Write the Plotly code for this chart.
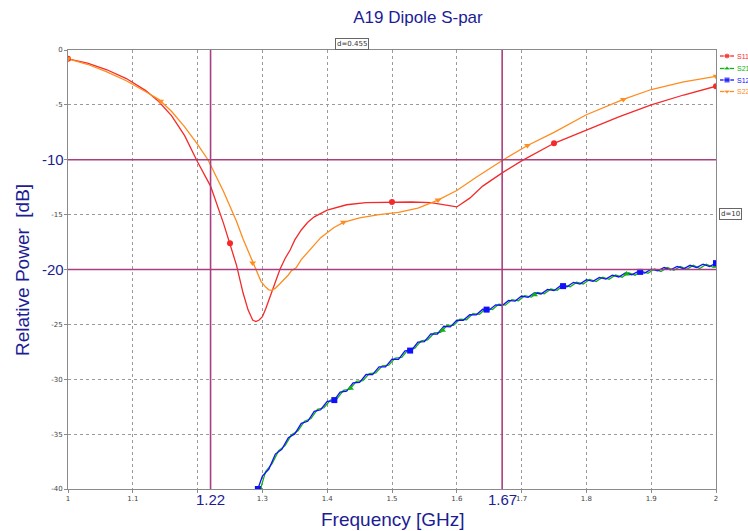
import numpy as np
import plotly.graph_objects as go

# ---------------- data ----------------
s11_f = [1.00, 1.03, 1.06, 1.09, 1.12, 1.14, 1.16, 1.18, 1.20, 1.22, 1.24, 1.25, 1.26, 1.27,
         1.278, 1.285, 1.29, 1.295, 1.30, 1.305, 1.31, 1.317, 1.327, 1.335, 1.343, 1.35, 1.36,
         1.37, 1.38, 1.40, 1.43, 1.46, 1.50, 1.53, 1.56, 1.58, 1.60, 1.62, 1.64, 1.67, 1.70,
         1.75, 1.80, 1.85, 1.90, 1.95, 2.00]
s11_db = [-0.8, -1.2, -1.8, -2.6, -3.7, -4.7, -6.0, -7.8, -10.2, -12.4, -15.8, -17.6, -19.6, -22.1,
          -23.7, -24.6, -24.75, -24.6, -24.3, -23.6, -22.8, -21.6, -20.0, -19.0, -18.2, -17.3, -16.4,
          -15.7, -15.2, -14.6, -14.1, -13.9, -13.85, -13.85, -13.9, -14.1, -14.3, -13.5, -12.4, -11.2, -10.1,
          -8.5, -7.3, -6.1, -5.0, -4.1, -3.3]

s22_f = [1.00, 1.03, 1.06, 1.09, 1.12, 1.14, 1.16, 1.18, 1.20, 1.216, 1.24, 1.26, 1.27, 1.278,
         1.285, 1.29, 1.298, 1.305, 1.31, 1.315, 1.32, 1.327, 1.334, 1.34, 1.345, 1.352, 1.36,
         1.373, 1.39, 1.41, 1.425, 1.45, 1.48, 1.51, 1.54, 1.57, 1.60, 1.63, 1.672, 1.709,
         1.75, 1.80, 1.857, 1.90, 1.95, 2.00]
s22_db = [-0.8, -1.3, -2.0, -2.8, -3.8, -4.5, -5.6, -7.0, -8.6, -10.0, -12.9, -15.6, -17.2, -18.3,
          -19.4, -20.0, -21.1, -21.6, -21.85, -21.9, -21.7, -21.3, -20.9, -20.5, -20.1, -19.85, -19.1,
          -18.2, -17.1, -16.2, -15.7, -15.3, -15.0, -14.8, -14.4, -13.7, -12.8, -11.6, -10.0, -8.7,
          -7.5, -5.9, -4.5, -3.6, -2.9, -2.4]

s12_f = [1.293, 1.30, 1.31, 1.32, 1.33, 1.34, 1.35, 1.36, 1.37, 1.38, 1.39, 1.40, 1.41, 1.42, 1.43,
         1.44, 1.45, 1.46, 1.47, 1.48, 1.49, 1.50, 1.51, 1.52, 1.53, 1.54, 1.55, 1.56, 1.57, 1.58,
         1.59, 1.60, 1.61, 1.62, 1.63, 1.64, 1.65, 1.66, 1.67, 1.68, 1.69, 1.70, 1.71, 1.72, 1.73,
         1.74, 1.75, 1.76, 1.77, 1.78, 1.79, 1.80, 1.81, 1.82, 1.83, 1.84, 1.85, 1.86, 1.87, 1.88,
         1.89, 1.90, 1.91, 1.92, 1.93, 1.94, 1.95, 1.96, 1.97, 1.98, 1.99, 2.00]
s12_db = [-40.0, -38.82, -38.18, -36.82, -36.38, -35.32, -34.98, -34.02, -33.83, -32.92, -32.78,
          -32.02, -31.98, -31.17, -31.08, -30.32, -30.28, -29.57, -29.58, -28.87, -28.88, -28.17,
          -28.18, -27.42, -27.38, -26.62, -26.58, -25.87, -25.88, -25.17, -25.23, -24.62, -24.63,
          -24.12, -24.13, -23.62, -23.68, -23.22, -23.28, -22.82, -22.88, -22.42, -22.53, -22.12,
          -22.23, -21.82, -21.93, -21.47, -21.58, -21.17, -21.33, -20.92, -21.08, -20.72, -20.88,
          -20.52, -20.68, -20.32, -20.48, -20.17, -20.33, -19.97, -20.13, -19.82, -20.03, -19.72,
          -19.93, -19.62, -19.83, -19.52, -19.73, -19.42]

s21_f = [1.297, 1.305, 1.315, 1.325, 1.335, 1.345, 1.355, 1.365, 1.375, 1.385, 1.395, 1.405, 1.415,
         1.425, 1.435, 1.445, 1.455, 1.465, 1.475, 1.485, 1.495, 1.505, 1.515, 1.525, 1.535, 1.545,
         1.555, 1.565, 1.575, 1.585, 1.595, 1.605, 1.615, 1.625, 1.635, 1.645, 1.655, 1.665, 1.675,
         1.685, 1.695, 1.705, 1.715, 1.725, 1.735, 1.745, 1.755, 1.765, 1.775, 1.785, 1.795, 1.805,
         1.815, 1.825, 1.835, 1.845, 1.855, 1.865, 1.875, 1.885, 1.895, 1.905, 1.915, 1.925, 1.935,
         1.945, 1.955, 1.965, 1.975, 1.985, 1.995, 2.00]
s21_db = [-40.0, -38.4, -37.7, -36.5, -36.05, -35.05, -34.7, -33.82, -33.58, -32.75, -32.6, -31.9,
          -31.78, -31.02, -30.9, -30.2, -30.12, -29.48, -29.42, -28.78, -28.72, -28.08, -28.0, -27.3,
          -27.2, -26.5, -26.42, -25.78, -25.72, -25.1, -25.1, -24.52, -24.58, -24.02, -24.08, -23.55,
          -23.65, -23.15, -23.25, -22.75, -22.85, -22.38, -22.52, -22.08, -22.22, -21.78, -21.9,
          -21.42, -21.58, -21.15, -21.32, -20.9, -21.1, -20.7, -20.9, -20.5, -20.7, -20.3, -20.52,
          -20.15, -20.35, -19.95, -20.18, -19.82, -20.08, -19.72, -19.98, -19.62, -19.92, -19.52,
          -19.78, -19.7]

# marker positions along each trace
s11_mk = [1.0, 1.25, 1.5, 1.75, 2.0]
s22_mk = [1.0, 1.143, 1.285, 1.425, 1.571, 1.709, 1.857, 2.0]
s12_mk = [1.293, 1.411, 1.528, 1.646, 1.764, 1.883, 2.0]
s21_mk = [1.297, 1.436, 1.578, 1.72, 1.862, 2.0]

series_names = ["S11", "S21", "S12", "S22"]

x_ticks = [1.0, 1.1, 1.2, 1.3, 1.4, 1.5, 1.6, 1.7, 1.8, 1.9, 2.0]
x_tick_text = ["1", "1.1", "", "1.3", "1.4", "1.5", "1.6", "1.7", "1.8", "1.9", "2"]
y_ticks = [0, -5, -10, -15, -20, -25, -30, -35, -40]
y_tick_text = ["0", "-5", "", "-15", "", "-25", "-30", "-35", "-40"]
h_markers = [-10, -20]
v_markers = [1.22, 1.67]

# ---------------- styling ----------------
RED = "#f42a2a"
ORANGE = "#ff8c1e"
BLUE = "#1010ff"
GREEN = "#10b010"
MAG = "#a8407f"
NAVY = "#1c1c94"
GRID = "#9a9a9a"
AX = "#8a8a8a"

W, H = 748, 531
L, R, T, B = 68, 0, 50, 42
PW, PH = W - L - R, H - T - B
PLOT_R = 716  # right edge of main plot in px


def px_x(p):
    return (p - L) / PW


def px_y(p):
    return (H - B - p) / PH


fig = go.Figure()

curves = [
    (s11_f, s11_db, s11_mk, RED, "circle", series_names[0]),
    (s21_f, s21_db, s21_mk, GREEN, "triangle-up", series_names[1]),
    (s12_f, s12_db, s12_mk, BLUE, "square", series_names[2]),
    (s22_f, s22_db, s22_mk, ORANGE, "triangle-down", series_names[3]),
]

for f, db, mk, col, sym, name in curves:
    fig.add_trace(go.Scatter(x=f, y=db, mode="lines", line=dict(color=col, width=1.3),
                             name=name, showlegend=False, hoverinfo="x+y"))
for f, db, mk, col, sym, name in curves:
    fig.add_trace(go.Scatter(x=mk, y=np.interp(mk, f, db), mode="markers",
                             marker=dict(color=col, symbol=sym, size=6),
                             showlegend=False, hoverinfo="skip"))

# custom legend (drawn on a small helper axis in pixel units)
leg_rows = [56, 68.5, 80, 91.5]
for (f, db, mk, col, sym, name), yy in zip(curves, leg_rows):
    fig.add_trace(go.Scatter(x=[720, 727, 734], y=[yy, yy, yy], mode="lines+markers",
                             line=dict(color=col, width=1.3),
                             marker=dict(color=col, symbol=sym, size=[0, 6, 0]),
                             xaxis="x2", yaxis="y2", showlegend=False, hoverinfo="skip"))

shapes = []
for yv in h_markers:
    shapes.append(dict(type="line", xref="x", yref="y", x0=1.0, x1=2.0, y0=yv, y1=yv,
                       line=dict(color=MAG, width=1.6), layer="above"))
for xv in v_markers:
    shapes.append(dict(type="line", xref="x", yref="y", x0=xv, x1=xv, y0=-40, y1=0,
                       line=dict(color=MAG, width=1.6), layer="above"))

big = dict(family="Liberation Sans, Arial", size=15, color=NAVY)
ann = []
for xv in v_markers:
    ann.append(dict(x=xv, y=px_y(499), xref="x", yref="paper", text=f"{xv:.2f}",
                    showarrow=False, font=big, xanchor="center", yanchor="middle"))
for yv in h_markers:
    ann.append(dict(x=px_x(66), y=yv, xref="paper", yref="y", text=f"{yv}",
                    showarrow=False, font=big, xanchor="right", yanchor="middle"))
ann.append(dict(x=px_x(22), y=px_y(270), xref="paper", yref="paper", text="Relative Power  [dB]",
                textangle=-90, showarrow=False, xanchor="center", yanchor="middle",
                font=dict(family="Liberation Sans, Arial", size=19, color=NAVY)))
ann.append(dict(x=px_x(393), y=px_y(519), xref="paper", yref="paper", text="Frequency [GHz]",
                showarrow=False, xanchor="center", yanchor="middle",
                font=dict(family="Liberation Sans, Arial", size=19, color=NAVY)))
ann.append(dict(x=px_x(352), y=px_y(44), xref="paper", yref="paper", text="d=0.455",
                showarrow=False, xanchor="center", yanchor="middle",
                font=dict(family="DejaVu Sans", size=7, color="#333333"),
                bordercolor="#666666", borderwidth=1, borderpad=1, bgcolor="white"))
ann.append(dict(x=px_x(730), y=px_y(214), xref="paper", yref="paper", text="d=10",
                showarrow=False, xanchor="center", yanchor="middle",
                font=dict(family="DejaVu Sans", size=7, color="#333333"),
                bordercolor="#666666", borderwidth=1, borderpad=1, bgcolor="white"))
for (f, db, mk, col, sym, name), yy in zip(curves, leg_rows):
    ann.append(dict(x=734.5, y=yy, xref="x2", yref="y2", text=name, showarrow=False,
                    xanchor="left", yanchor="middle",
                    font=dict(family="Liberation Sans, Arial", size=7, color=col)))

tickfont = dict(family="DejaVu Sans", size=7, color="#444444")

fig.update_layout(
    width=W, height=H,
    margin=dict(l=L, r=R, t=T, b=B, autoexpand=False),
    paper_bgcolor="white", plot_bgcolor="white",
    title=dict(text="A19 Dipole S-par", x=418 / W, y=1 - 17 / H, xanchor="center", yanchor="middle",
               font=dict(family="Liberation Sans, Arial", size=17, color=NAVY)),
    xaxis=dict(domain=[0, (PLOT_R - L) / PW], range=[1.0, 2.0], tickvals=x_ticks, ticktext=x_tick_text,
               tickfont=tickfont, showgrid=True, gridcolor=GRID, griddash="dot", gridwidth=1,
               showline=True, linecolor=AX, linewidth=1, mirror=True, zeroline=False,
               ticks="outside", ticklen=3, tickcolor=AX),
    yaxis=dict(range=[-40, 0], tickvals=y_ticks, ticktext=y_tick_text, tickfont=tickfont,
               showgrid=True, gridcolor=GRID, griddash="dot", gridwidth=1,
               showline=True, linecolor=AX, linewidth=1, mirror=True, zeroline=False,
               ticks="outside", ticklen=3, tickcolor=AX),
    xaxis2=dict(domain=[(718 - L) / PW, 1.0], range=[718, 748], visible=False, anchor="y2"),
    yaxis2=dict(domain=[0, 1], range=[H - B, T], visible=False, anchor="x2"),
    shapes=shapes, annotations=ann, showlegend=False,
)

fig.write_html("out.html")
